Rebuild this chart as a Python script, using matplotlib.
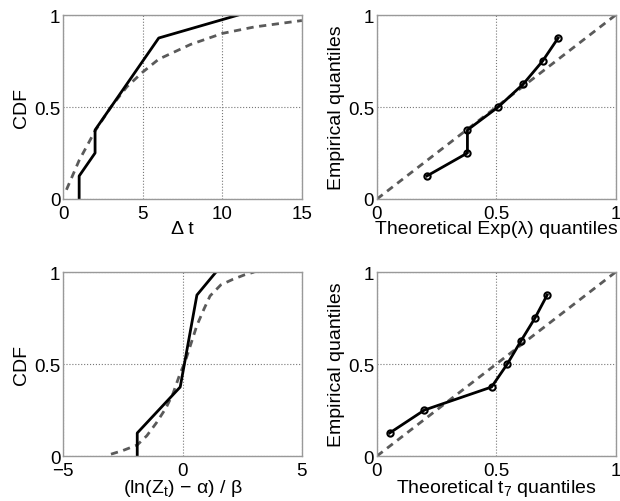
import matplotlib
matplotlib.use("Agg")
import matplotlib.pyplot as plt

plt.rcParams['font.family'] = ['Liberation Sans', 'DejaVu Sans']
plt.rcParams['mathtext.fontset'] = 'custom'
plt.rcParams['mathtext.rm'] = 'Liberation Sans'
plt.rcParams['mathtext.it'] = 'Liberation Sans'

# --- top left: empirical CDF of delta t vs exponential fit
dt_emp_x = [1, 1, 2, 2, 6, 11]
dt_emp_y = [0, 0.125, 0.25, 0.375, 0.875, 1.0]
dt_fit_x = [0.2, 0.5, 1, 2, 3, 4, 5, 6, 7, 8, 10, 12, 15]
dt_fit_y = [0.05, 0.11, 0.21, 0.37, 0.50, 0.61, 0.69, 0.76, 0.80, 0.84, 0.90, 0.935, 0.97]

# --- top right: QQ against exponential
qq_exp_x = [0.209, 0.379, 0.379, 0.508, 0.613, 0.694, 0.759]
qq_exp_y = [0.125, 0.25, 0.375, 0.5, 0.625, 0.75, 0.875]

# --- bottom left: empirical CDF of standardized log values vs t fit
z_emp_x = [-1.9, -1.9, -1.0, -0.1, 0.6, 1.4]
z_emp_y = [0, 0.125, 0.25, 0.375, 0.875, 1.0]
z_fit_x = [-3.0, -2.5, -1.9, -1.5, -1.1, -0.7, -0.4, -0.1, 0.1, 0.35, 0.6, 0.9, 1.15, 1.6, 2.1, 2.6, 3.0]
z_fit_y = [0.01, 0.03, 0.06, 0.11, 0.18, 0.26, 0.34, 0.45, 0.51, 0.61, 0.71, 0.80, 0.87, 0.93, 0.96, 0.985, 1.0]

# --- bottom right: QQ against t7
qq_t_x = [0.053, 0.199, 0.480, 0.546, 0.603, 0.662, 0.713]
qq_t_y = [0.125, 0.25, 0.375, 0.5, 0.625, 0.75, 0.875]

ref_x = [0, 1]
ref_y = [0, 1]

fig = plt.figure(figsize=(6.2, 5.02), dpi=100)
W, H = 0.385, 0.3665
ax1 = fig.add_axes([0.102, 0.6016, W, H])
ax2 = fig.add_axes([0.608, 0.6016, W, H])
ax3 = fig.add_axes([0.102, 0.0896, W, H])
ax4 = fig.add_axes([0.608, 0.0896, W, H])

fs = 13.5
lfs = 14
dash = dict(color='#5a5a5a', lw=2, ls=(0, (2.6, 2)))
solid = dict(color='black', lw=2)

def style(ax):
    for s in ax.spines.values():
        s.set_color('#999999')
        s.set_linewidth(1)
    ax.tick_params(length=0, labelsize=fs, pad=2)
    ax.tick_params(axis='x', pad=4)
    ax.grid(True, ls=':', color='#777777', lw=0.8)
    ax.set_axisbelow(True)

ax1.plot(dt_fit_x, dt_fit_y, **dash)
ax1.plot(dt_emp_x, dt_emp_y, **solid)
ax1.set_xlim(0, 15)
ax1.set_ylim(0, 1)
ax1.set_xticks([0, 5, 10, 15])
ax1.set_yticks([0, 0.5, 1])
ax1.set_yticklabels(['0', '0.5', '1'])
ax1.set_xlabel('Δ t', fontsize=lfs, labelpad=-1)
ax1.set_ylabel('CDF', fontsize=lfs, labelpad=3)

ax2.plot(ref_x, ref_y, **dash)
ax2.plot(qq_exp_x, qq_exp_y, marker='o', ms=4.5, mfc='none', mew=1.5, **solid)
ax2.set_xlim(0, 1)
ax2.set_ylim(0, 1)
ax2.set_xticks([0, 0.5, 1])
ax2.set_xticklabels(['0', '0.5', '1'])
ax2.set_yticks([0, 0.5, 1])
ax2.set_yticklabels(['0', '0.5', '1'])
ax2.set_xlabel('Theoretical Exp(λ) quantiles', fontsize=lfs, labelpad=-1)
ax2.set_ylabel('Empirical quantiles', fontsize=lfs, labelpad=2)

ax3.plot(z_fit_x, z_fit_y, **dash)
ax3.plot(z_emp_x, z_emp_y, **solid)
ax3.set_xlim(-5, 5)
ax3.set_ylim(0, 1)
ax3.set_xticks([-5, 0, 5])
ax3.set_xticklabels(['−5', '0', '5'])
ax3.set_yticks([0, 0.5, 1])
ax3.set_yticklabels(['0', '0.5', '1'])
ax3.set_xlabel('(ln(Z$_t$) − α) / β', fontsize=lfs, labelpad=-1)
ax3.set_ylabel('CDF', fontsize=lfs, labelpad=3)

ax4.plot(ref_x, ref_y, **dash)
ax4.plot(qq_t_x, qq_t_y, marker='o', ms=4.5, mfc='none', mew=1.5, **solid)
ax4.set_xlim(0, 1)
ax4.set_ylim(0, 1)
ax4.set_xticks([0, 0.5, 1])
ax4.set_xticklabels(['0', '0.5', '1'])
ax4.set_yticks([0, 0.5, 1])
ax4.set_yticklabels(['0', '0.5', '1'])
ax4.set_xlabel('Theoretical t$_7$ quantiles', fontsize=lfs, labelpad=-1)
ax4.set_ylabel('Empirical quantiles', fontsize=lfs, labelpad=2)

for ax in (ax1, ax2, ax3, ax4):
    style(ax)

fig.savefig('out.png', dpi=100)
